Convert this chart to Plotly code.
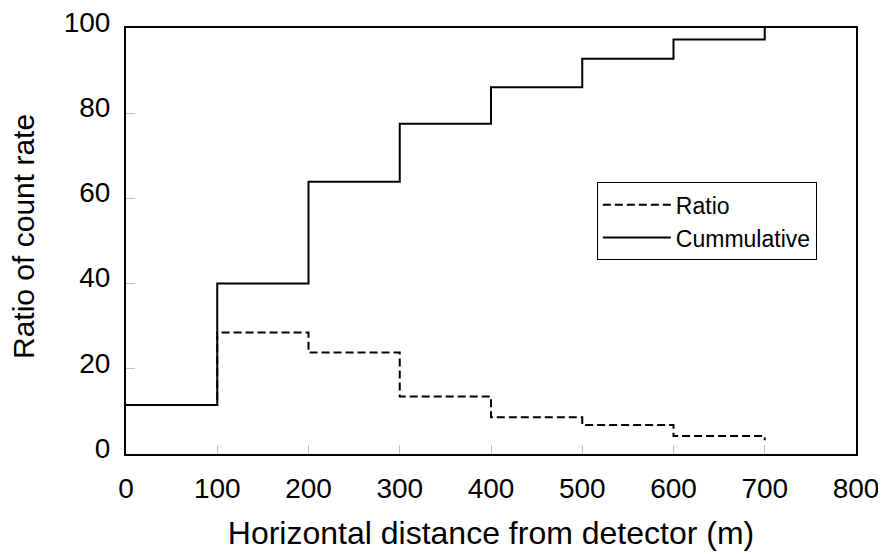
import plotly.graph_objects as go

distance = [0, 100, 200, 300, 400, 500, 600, 700]
ratio = [11.5, 28.5, 23.8, 13.5, 8.6, 6.8, 4.2, 3.2]
cumulative = [11.5, 40.0, 63.9, 77.5, 86.1, 92.8, 97.3, 100.0]

x_ticks = [0, 100, 200, 300, 400, 500, 600, 700, 800]
y_ticks = [0, 20, 40, 60, 80, 100]

FONT = "Liberation Sans, Arial, sans-serif"

fig = go.Figure()
fig.add_trace(go.Scatter(
    x=distance, y=ratio, name="Ratio", mode="lines", line_shape="hv",
    line=dict(color="black", width=2, dash="8px,4px"), cliponaxis=False))
fig.add_trace(go.Scatter(
    x=distance, y=cumulative, name="Cummulative", mode="lines", line_shape="hv",
    line=dict(color="black", width=2), cliponaxis=False))

axis_common = dict(
    showgrid=False, zeroline=False, showline=True, linecolor="black", linewidth=2,
    mirror=True, ticks="inside", ticklen=9, tickcolor="#c0c0c0", tickwidth=1,
    tickfont=dict(family=FONT, size=28, color="black"), automargin=False,
    ticklabeloverflow="allow",
)

fig.update_xaxes(range=[0, 800], tickvals=x_ticks, ticktext=[str(v) for v in x_ticks],
                 ticklabelstandoff=8,
                 title=dict(text="Horizontal distance from detector (m)",
                            font=dict(family=FONT, size=32, color="black"), standoff=19),
                 **axis_common)
fig.update_yaxes(range=[0, 100], tickvals=y_ticks, ticktext=[str(v) for v in y_ticks],
                 ticklabelstandoff=8, ticklabelshift=-6,
                 **axis_common)

fig.add_annotation(text="Ratio of count rate", textangle=-90,
                   xref="paper", yref="paper", x=0, y=0.5,
                   xanchor="center", yanchor="middle", xshift=-103, yshift=4,
                   showarrow=False, font=dict(family=FONT, size=30, color="black"))

fig.update_layout(
    width=886, height=554,
    margin=dict(l=118, r=38, t=20, b=108),
    paper_bgcolor="white", plot_bgcolor="white",
    showlegend=True,
    legend=dict(x=0.645, y=0.638, xanchor="left", yanchor="top",
                bordercolor="black", borderwidth=1, bgcolor="white",
                font=dict(family=FONT, size=23, color="black"),
                tracegroupgap=0, itemwidth=68),
)

fig.write_html("out.html")
